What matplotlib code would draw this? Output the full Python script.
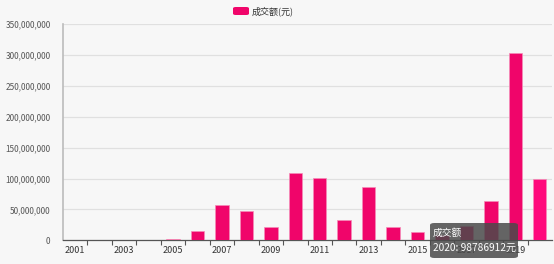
import matplotlib
matplotlib.use("Agg")
import matplotlib.pyplot as plt
from matplotlib.patches import FancyBboxPatch
from matplotlib.ticker import FuncFormatter, FixedLocator

plt.rcParams['font.family'] = ['Noto Sans CJK SC', 'DejaVu Sans']

years = [str(y) for y in range(2001, 2021)]
values = [0, 0, 0, 0, 2_000_000, 14_500_000, 57_500_000, 47_500_000, 22_000_000,
          108_500_000, 100_500_000, 33_000_000, 86_000_000, 21_000_000, 14_000_000,
          8_000_000, 23_000_000, 63_500_000, 303_500_000, 98_786_912]
series_name = '成交额(元)'
tooltip_title = '成交额'
tooltip_text = '2020: 98786912元'

W, H = 554, 264
fig = plt.figure(figsize=(W / 100, H / 100), dpi=100)
bg = '#f7f7f7'
fig.patch.set_facecolor(bg)

left, right, top, bottom = 63, 552, 24.3, 240.3
ax = fig.add_axes([left / W, 1 - bottom / H, (right - left) / W, (bottom - top) / H])
ax.set_facecolor(bg)

x = list(range(len(years)))
colors = ['#f0056a'] * (len(years) - 1) + ['#ff0a7c']
ax.bar(x, values, width=0.55, color=colors, edgecolor='#f58cb8', linewidth=0.5, zorder=3)

ax.set_xlim(-0.5, len(years) - 0.5)
ax.set_ylim(0, 350_000_000)
ax.set_yticks(range(0, 350_000_001, 50_000_000))
ax.yaxis.set_major_formatter(FuncFormatter(lambda v, p: f'{int(v):,}'))
ax.grid(axis='y', color='#e0e0e0', linewidth=0.9, zorder=0)

ax.set_xticks(x[::2])
ax.set_xticklabels(years[::2])
ax.xaxis.set_minor_locator(FixedLocator([i + 0.5 for i in range(len(years) - 1)]))
ax.tick_params(axis='x', which='major', length=0, pad=4, labelsize=6.5, colors='#333333')
ax.tick_params(axis='x', which='minor', length=3.5, width=0.8, color='#555555', direction='out')
ax.tick_params(axis='y', length=0, pad=9, labelsize=5.9, labelcolor='#555555')

for s in ['top', 'right']:
    ax.spines[s].set_visible(False)
ax.spines['left'].set_color('#bbbbbb')
ax.spines['left'].set_linewidth(1.2)
ax.spines['bottom'].set_color('#555555')
ax.spines['bottom'].set_linewidth(0.9)

# legend
fig.patches.append(FancyBboxPatch((233 / W, 1 - 15 / H), 16 / W, 8 / H,
                                  boxstyle='round,pad=0,rounding_size=0.005',
                                  transform=fig.transFigure, facecolor='#f0056a',
                                  edgecolor='none'))
fig.text(252 / W, 1 - 11 / H, series_name, fontsize=6.5, color='#333333',
         va='center', ha='left')

# tooltip
fig.patches.append(FancyBboxPatch((430 / W, 1 - 258 / H), 88 / W, 35 / H,
                                  boxstyle='round,pad=0,rounding_size=0.008',
                                  transform=fig.transFigure, facecolor='#4a4a4a',
                                  alpha=0.85, edgecolor='none', zorder=10))
fig.text(433 / W, 1 - 233 / H, tooltip_title, fontsize=7, color='white',
         va='center', ha='left', zorder=11)
fig.text(433 / W, 1 - 248 / H, tooltip_text, fontsize=7.3, color='white',
         va='center', ha='left', zorder=11)

fig.savefig('out.png', dpi=100, facecolor=bg)
